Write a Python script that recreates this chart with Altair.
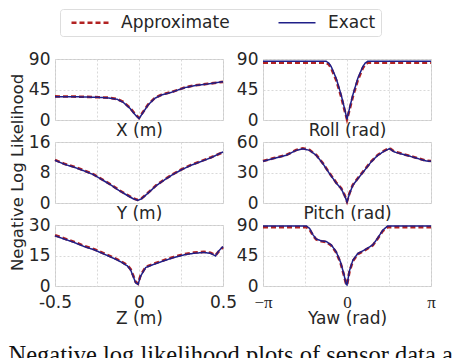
import altair as alt
import pandas as pd

PI = 3.14159265

# ---------------- data ----------------
x_pos = [-0.5, -0.4, -0.32, -0.24, -0.18, -0.13, -0.094, -0.054, -0.025, 0.0,
         0.025, 0.054, 0.094, 0.134, 0.193, 0.272, 0.33, 0.41, 0.5]
x_exact = [34.4, 34.4, 33.9, 33.4, 32.5, 30.5, 26.1, 17.2, 8.4, 2.0,
           11.3, 22.1, 32.0, 36.9, 40.8, 47.7, 50.7, 53.1, 56.6]
x_approx = [34.8, 34.6, 34.2, 33.6, 32.9, 30.9, 26.8, 18.0, 9.2, 3.0,
            12.1, 22.8, 32.6, 37.3, 41.2, 47.9, 51.0, 53.4, 56.3]

roll_pos = [-PI, -0.778, -0.68, -0.59, -0.405, -0.218, -0.094, 0.0,
            0.094, 0.218, 0.405, 0.59, 0.68, 0.778, PI]
roll_exact = [86.6, 86.6, 84.0, 78.7, 61.5, 36.9, 17.2, 1.0,
              17.2, 36.9, 61.5, 78.7, 84.0, 86.6, 86.6]
roll_approx = [84.6, 84.6, 82.0, 76.5, 59.0, 34.5, 15.0, 1.0,
               15.0, 34.5, 59.0, 76.5, 82.0, 84.6, 84.6]

y_pos = [-0.5, -0.44, -0.38, -0.32, -0.27, -0.22, -0.17, -0.12, -0.07, -0.034,
         -0.008, 0.015, 0.054, 0.104, 0.153, 0.203, 0.252, 0.31, 0.37, 0.43, 0.5]
y_exact = [11.2, 10.1, 9.3, 8.3, 7.4, 6.1, 4.8, 3.3, 2.0, 1.1,
           0.7, 1.1, 2.6, 4.6, 6.1, 7.5, 8.7, 9.9, 10.9, 11.9, 13.4]
y_approx = [11.3, 10.2, 9.4, 8.4, 7.5, 6.2, 4.9, 3.4, 2.1, 1.2,
            0.8, 1.2, 2.7, 4.7, 6.2, 7.6, 8.8, 10.0, 11.0, 12.0, 13.3]

pitch_pos = [-PI, -2.77, -2.27, -1.9, -1.65, -1.4, -1.15, -0.90, -0.654, -0.405,
             -0.218, -0.094, 0.0, 0.094, 0.218, 0.405, 0.654, 0.9, 1.15, 1.4,
             1.59, 1.77, 2.09, 2.46, 2.96, PI]
pitch_exact = [41.0, 43.6, 46.9, 51.8, 53.4, 51.8, 46.9, 38.7, 28.9, 19.7,
               14.1, 7.5, 1.0, 9.2, 17.4, 23.9, 32.1, 40.3, 46.9, 51.1,
               53.4, 50.2, 47.9, 45.2, 41.3, 41.0]
pitch_approx = [41.3, 43.9, 47.2, 52.1, 53.8, 52.1, 47.2, 39.0, 29.3, 20.1,
                14.6, 8.0, 1.5, 9.7, 17.9, 24.3, 32.5, 40.7, 47.3, 51.5,
                54.0, 50.6, 48.2, 45.5, 41.6, 41.3]

z_pos = [-0.5, -0.445, -0.385, -0.326, -0.267, -0.208, -0.148, -0.109, -0.069,
         -0.05, -0.034, -0.02, -0.006, 0.01, 0.04, 0.09, 0.148, 0.208, 0.267,
         0.326, 0.386, 0.425, 0.455, 0.475, 0.5]
z_exact = [24.7, 23.1, 21.4, 19.4, 17.8, 15.7, 13.5, 11.9, 9.9,
           7.9, 4.6, 1.6, 0.8, 4.9, 9.1, 10.7, 12.4, 14.0, 15.3,
           16.1, 16.5, 16.1, 14.8, 17.3, 19.4]
z_approx = [25.0, 23.4, 21.7, 19.7, 18.1, 16.0, 13.8, 12.2, 10.2,
            8.3, 5.0, 2.0, 1.2, 5.3, 9.4, 11.0, 12.7, 14.3, 15.6,
            16.4, 16.8, 16.4, 15.1, 17.0, 19.1]

yaw_pos = [-PI, -1.52, -1.40, -1.276, -1.15, -0.964, -0.778, -0.59, -0.405,
           -0.243, -0.118, -0.031, 0.0, 0.094, 0.218, 0.405, 0.654, 0.964,
           1.15, 1.34, 1.52, PI]
yaw_exact = [88.5, 88.5, 85.0, 75.8, 69.3, 66.7, 65.7, 60.7, 50.6,
             35.4, 17.7, 2.5, 1.5, 22.7, 37.9, 48.0, 53.1, 60.7,
             70.8, 82.4, 88.5, 88.5]
yaw_approx = [86.8, 86.8, 83.5, 74.8, 68.6, 66.0, 65.0, 59.8, 49.6,
              34.2, 16.5, 2.5, 1.5, 21.5, 36.8, 47.2, 52.4, 60.0,
              70.0, 81.3, 86.8, 86.8]

series_names = ["Approximate", "Exact"]
series_colors = ["#b22222", "#1f1f88"]
caption = "Negative log likelihood plots of sensor data a"

FONT = "DejaVu Sans"
TXT = "#262626"
W, H = 168, 61


def panel(xs, ex, ap, ydom, yticks, xtitle, angular, bottom, ytitle=None):
    df = pd.DataFrame({
        "x": list(xs) + list(xs),
        "v": list(ap) + list(ex),
        "series": ["Approximate"] * len(xs) + ["Exact"] * len(xs),
        "order": list(range(len(xs))) * 2,
    })
    if angular:
        xdom = [-PI, PI]
        xvals = [-PI, -PI / 2, 0, PI / 2, PI]
        lexpr = ("datum.value < -3 ? '\u2212\u03c0' : datum.value > 3 ? '\u03c0' : "
                 "abs(datum.value) < 0.01 ? '0' : ''")
        lfont = "Liberation Serif"
    else:
        xdom = [-0.5, 0.5]
        xvals = [-0.5, -0.25, 0, 0.25, 0.5]
        lexpr = ("datum.value == -0.5 ? '-0.5' : datum.value == 0.5 ? '0.5' : "
                 "datum.value == 0 ? '0' : ''")
        lfont = FONT
    xaxis = alt.Axis(values=xvals, labels=bottom, labelExpr=lexpr, labelFont=lfont,
                     labelFontSize=17, labelPadding=8, labelFlush=False,
                     title=xtitle, titleY=(24 if bottom else 2), titleBaseline="top")
    yargs = dict(values=yticks, labelPadding=5)
    if ytitle:
        yargs.update(title=ytitle, titleX=-33, titleY=30, titleBaseline="alphabetic",
                     titleAngle=270, titleFontSize=16.5)
    else:
        yargs.update(title=None)
    yaxis = alt.Axis(**yargs)
    base = alt.Chart(df).encode(
        x=alt.X("x:Q", scale=alt.Scale(domain=xdom, nice=False, zero=False), axis=xaxis),
        y=alt.Y("v:Q", scale=alt.Scale(domain=ydom, nice=False), axis=yaxis),
        order="order:Q",
        color=alt.Color("series:N", scale=alt.Scale(domain=series_names, range=series_colors),
                        legend=alt.Legend(title=None)),
        strokeDash=alt.StrokeDash("series:N",
                                  scale=alt.Scale(domain=series_names, range=[[5, 3], [1, 0]]),
                                  legend=alt.Legend(title=None)),
        strokeWidth=alt.StrokeWidth("series:N",
                                    scale=alt.Scale(domain=series_names, range=[2.6, 1.5]),
                                    legend=None),
    )
    ap_layer = base.mark_line().transform_filter(alt.datum.series == "Approximate")
    ex_layer = base.mark_line().transform_filter(alt.datum.series == "Exact")
    return alt.layer(ap_layer, ex_layer).properties(width=W, height=H)


p_x = panel(x_pos, x_exact, x_approx, [0, 90], [0, 45, 90], "X (m)", False, False)
p_roll = panel(roll_pos, roll_exact, roll_approx, [0, 90], [0, 45, 90], "Roll (rad)", True, False)
p_y = panel(y_pos, y_exact, y_approx, [0, 16], [0, 8, 16], "Y (m)", False, False,
            ytitle="Negative Log Likelihood")
p_pitch = panel(pitch_pos, pitch_exact, pitch_approx, [0, 60], [0, 30, 60], "Pitch (rad)", True, False)
p_z = panel(z_pos, z_exact, z_approx, [0, 30], [0, 15, 30], "Z (m)", False, True)
p_yaw = panel(yaw_pos, yaw_exact, yaw_approx, [0, 90], [0, 45, 90], "Yaw (rad)", True, True)

chart = alt.concat(p_x, p_roll, p_y, p_pitch, p_z, p_yaw, columns=2,
                   spacing={"row": 22, "column": 40}, bounds="flush").properties(
    padding={"left": 0, "top": 0, "right": 5, "bottom": 0},
    title=alt.TitleParams(caption, orient="bottom", anchor="start", font="Liberation Serif",
                          fontSize=24.5, fontWeight="normal", color="#111111", offset=17,
                          frame="bounds"),
).configure_view(
    stroke="#cccccc", strokeWidth=1
).configure_axis(
    domain=False, ticks=False, grid=True, gridColor="#d9d9d9", gridDash=[2, 2],
    gridWidth=1, labelFont=FONT, labelFontSize=17, labelColor=TXT,
    titleFont=FONT, titleFontSize=17, titleFontWeight="normal", titleColor=TXT,
).configure_legend(
    orient="none", legendX=5, legendY=-50, direction="horizontal",
    symbolType="M-0.4,0L7,0", symbolSize=100, symbolStrokeWidth=2.2,
    labelFont=FONT, labelFontSize=17, labelColor=TXT, labelOffset=39,
    columnPadding=42, padding=5, strokeColor="#dddddd", cornerRadius=3,
    fillColor="white",
)

chart.save("out.html", embed_options={"renderer": "svg", "actions": False})
